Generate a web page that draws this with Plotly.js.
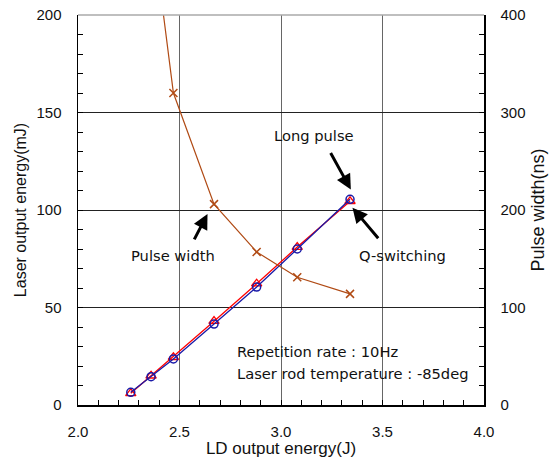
<!DOCTYPE html>
<html>
<head>
<meta charset="utf-8">
<script src="https://cdn.plot.ly/plotly-3.0.1.min.js"></script>
<style>html,body{margin:0;padding:0;background:#fff;}#chart{width:549px;height:463px;}</style>
</head>
<body>
<div id="chart"></div>
<script>
// LD output energy (J)
const ldEnergy = [2.26, 2.36, 2.47, 2.67, 2.88, 3.08, 3.34];
// Laser output energy (mJ)
const longPulse = [6.5, 14.5, 23.6, 41.5, 60.5, 80.0, 105.5];
const qSwitching = [6.0, 15.0, 24.5, 43.0, 62.2, 81.0, 104.5];
// Pulse width (ns)
const pwEnergy = [2.36, 2.47, 2.67, 2.88, 3.08, 3.34];
const pulseWidth = [500, 320, 206, 157, 131, 114];

const xTickVals = [2.0, 2.5, 3.0, 3.5, 4.0];
const labels = {
  x: 'LD output energy(J)',
  y: 'Laser output energy(mJ)',
  y2: 'Pulse width(ns)',
  long: 'Long pulse',
  q: 'Q-switching',
  pw: 'Pulse width',
  info1: 'Repetition rate : 10Hz',
  info2: 'Laser rod temperature : -85deg'
};

const tickFont = {family: 'Liberation Sans, Arial, sans-serif', size: 15, color: '#111'};
const titleFont = {family: 'Liberation Sans, Arial, sans-serif', size: 16, color: '#111'};
const annFont = {family: 'DejaVu Sans, sans-serif', size: 14.7, color: '#111'};

const traces = [
  {x: pwEnergy, y: pulseWidth, yaxis: 'y2', mode: 'lines+markers', type: 'scatter',
   line: {color: '#B04A14', width: 1.2},
   marker: {symbol: 'x-thin-open', size: 8, color: '#B04A14', line: {color: '#B04A14', width: 1.5}}},
  {x: ldEnergy, y: qSwitching, mode: 'lines+markers', type: 'scatter',
   line: {color: '#FF0000', width: 1.3},
   marker: {symbol: 'triangle-up-open', size: 9, color: '#FF0000', line: {width: 1.3}}},
  {x: ldEnergy, y: longPulse, mode: 'lines+markers', type: 'scatter',
   line: {color: '#1A1AA8', width: 1.3},
   marker: {symbol: 'circle-open', size: 8, color: '#1A1AA8', line: {width: 1.5}}}
];

const layout = {
  width: 549, height: 463,
  margin: {l: 77.5, r: 65, t: 15, b: 58, pad: 0},
  paper_bgcolor: '#fff', plot_bgcolor: '#fff',
  showlegend: false,
  xaxis: {
    range: [2.0, 4.0], tickvals: xTickVals, tickformat: '.1f',
    ticks: 'inside', ticklen: 5, tickcolor: '#000',
    minor: {dtick: 0.1, ticks: 'inside', ticklen: 5, tickcolor: '#000', showgrid: false},
    showgrid: true, gridcolor: '#666', gridwidth: 1,
    showline: true, linecolor: '#000', linewidth: 1.5,
    zeroline: false, tickfont: tickFont, ticklabelstandoff: 12,
    automargin: false,
    title: {text: labels.x, font: Object.assign({}, titleFont, {size: 17}), standoff: 3}
  },
  yaxis: {
    range: [0, 200], dtick: 50,
    ticks: 'inside', ticklen: 5, tickcolor: '#000',
    minor: {dtick: 10, ticks: 'inside', ticklen: 5, tickcolor: '#000', showgrid: false},
    showgrid: true, gridcolor: '#222', gridwidth: 1,
    showline: true, linecolor: '#000', linewidth: 1.5,
    zeroline: false, tickfont: tickFont, ticklabelstandoff: 12,
    automargin: false,
    title: {text: labels.y, font: titleFont, standoff: 6}
  },
  yaxis2: {
    overlaying: 'y', side: 'right', range: [0, 400], dtick: 100,
    ticks: 'inside', ticklen: 5, tickcolor: '#000',
    minor: {dtick: 20, ticks: 'inside', ticklen: 5, tickcolor: '#000', showgrid: false},
    showgrid: false, showline: true, linecolor: '#000', linewidth: 1.5,
    zeroline: false, tickfont: tickFont, ticklabelstandoff: 12,
    automargin: false,
    title: {text: labels.y2, font: Object.assign({}, titleFont, {size: 18}), standoff: 7}
  },
  shapes: [
    {type: 'line', xref: 'paper', yref: 'paper', x0: 0, x1: 1, y0: 1, y1: 1,
     line: {color: '#aaa', width: 1.5}}
  ],
  annotations: [
    {x: 3.344, y: 110.5, xref: 'x', yref: 'y', ax: -21, ay: -38, showarrow: true,
     arrowhead: 2, arrowsize: 1, arrowwidth: 3, arrowcolor: '#000', text: ''},
    {x: 3.352, y: 101.2, xref: 'x', yref: 'y', ax: 27, ay: 32, showarrow: true,
     arrowhead: 2, arrowsize: 1, arrowwidth: 3, arrowcolor: '#000', text: ''},
    {x: 2.638, y: 98, xref: 'x', yref: 'y', ax: -14, ay: 27, showarrow: true,
     arrowhead: 2, arrowsize: 1, arrowwidth: 3, arrowcolor: '#000', text: ''},
    {x: 3.162, y: 138.2, xref: 'x', yref: 'y', text: labels.long, showarrow: false, font: annFont},
    {x: 3.60, y: 76.7, xref: 'x', yref: 'y', text: labels.q, showarrow: false, font: annFont},
    {x: 2.469, y: 76.7, xref: 'x', yref: 'y', text: labels.pw, showarrow: false, font: annFont},
    {x: 2.771, y: 27.4, xref: 'x', yref: 'y', xanchor: 'left', text: labels.info1, showarrow: false, font: annFont},
    {x: 2.771, y: 16.3, xref: 'x', yref: 'y', xanchor: 'left', text: labels.info2, showarrow: false, font: annFont}
  ]
};

Plotly.newPlot('chart', traces, layout, {displayModeBar: false, staticPlot: true});
</script>
</body>
</html>
